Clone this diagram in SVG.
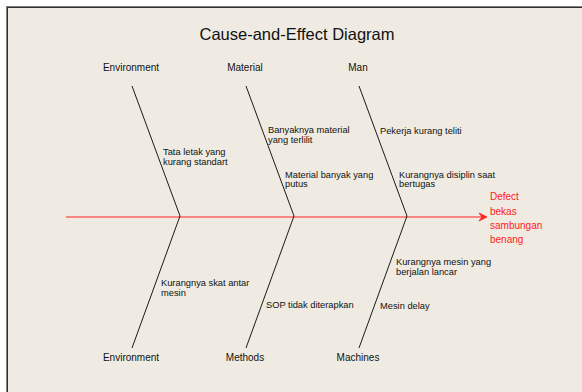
<svg xmlns="http://www.w3.org/2000/svg" width="582" height="392" viewBox="0 0 582 392">
<style>
text{font-family:"Liberation Sans",Arial,sans-serif;fill:#111}
.cat{font-size:10px;text-anchor:middle}
.cause{font-size:9.3px}
.title{font-size:16.5px;text-anchor:middle}
.eff{font-size:10px;fill:#ff1a1a}
.bone{fill:none;stroke:#1a1a1a;stroke-width:1;stroke-linejoin:round}
</style>
<rect x="0" y="0" width="582" height="392" fill="#ffffff"/>
<rect x="6" y="6" width="576" height="386" fill="#efebe2"/>
<line x1="6" y1="6.5" x2="582" y2="6.5" stroke="#808080" stroke-width="1"/>
<line x1="6.5" y1="6" x2="6.5" y2="392" stroke="#808080" stroke-width="1"/>
<line x1="7" y1="7.5" x2="582" y2="7.5" stroke="#303030" stroke-width="1"/>
<line x1="7.5" y1="7" x2="7.5" y2="392" stroke="#303030" stroke-width="1"/>
<text class="title" x="297" y="40">Cause-and-Effect Diagram</text>
<g id="connectors">
<line x1="66" y1="217" x2="484" y2="217" stroke="#ff2020" stroke-width="1"/>
<path d="M487,217 L479,213 L482,217 L479,221 Z" fill="#ff2020" stroke="#ff2020" stroke-width="0.8"/>
<polyline class="bone" points="132,86 180,216 132,348"/>
<polyline class="bone" points="246,86 294,216 246,348"/>
<polyline class="bone" points="359,86 407,216 359,348"/>
</g>
<g id="effect">
<text class="eff" x="490" y="200">Defect</text>
<text class="eff" x="490" y="214.5">bekas</text>
<text class="eff" x="490" y="229">sambungan</text>
<text class="eff" x="490" y="243">benang</text>
</g>
<g id="environment-top">
<text class="cat" x="131" y="71">Environment</text>
<text class="cause" x="163" y="155">Tata letak yang</text>
<text class="cause" x="163" y="164.5">kurang standart</text>
</g>
<g id="material">
<text class="cat" x="245" y="71">Material</text>
<text class="cause" x="268" y="132.5">Banyaknya material</text>
<text class="cause" x="268" y="142.5">yang terlilit</text>
<text class="cause" x="285" y="177.5">Material banyak yang</text>
<text class="cause" x="285" y="187">putus</text>
</g>
<g id="man">
<text class="cat" x="358" y="71">Man</text>
<text class="cause" x="380" y="133.5">Pekerja kurang teliti</text>
<text class="cause" x="399" y="177.5">Kurangnya disiplin saat</text>
<text class="cause" x="399" y="187">bertugas</text>
</g>
<g id="environment-bottom">
<text class="cat" x="131" y="360.5">Environment</text>
<text class="cause" x="161" y="286">Kurangnya skat antar</text>
<text class="cause" x="161" y="296">mesin</text>
</g>
<g id="methods">
<text class="cat" x="245" y="360.5">Methods</text>
<text class="cause" x="266" y="308">SOP tidak diterapkan</text>
</g>
<g id="machines">
<text class="cat" x="358" y="360.5">Machines</text>
<text class="cause" x="396" y="264.5">Kurangnya mesin yang</text>
<text class="cause" x="396" y="274.5">berjalan lancar</text>
<text class="cause" x="380" y="308.5">Mesin delay</text>
</g>
</svg>
